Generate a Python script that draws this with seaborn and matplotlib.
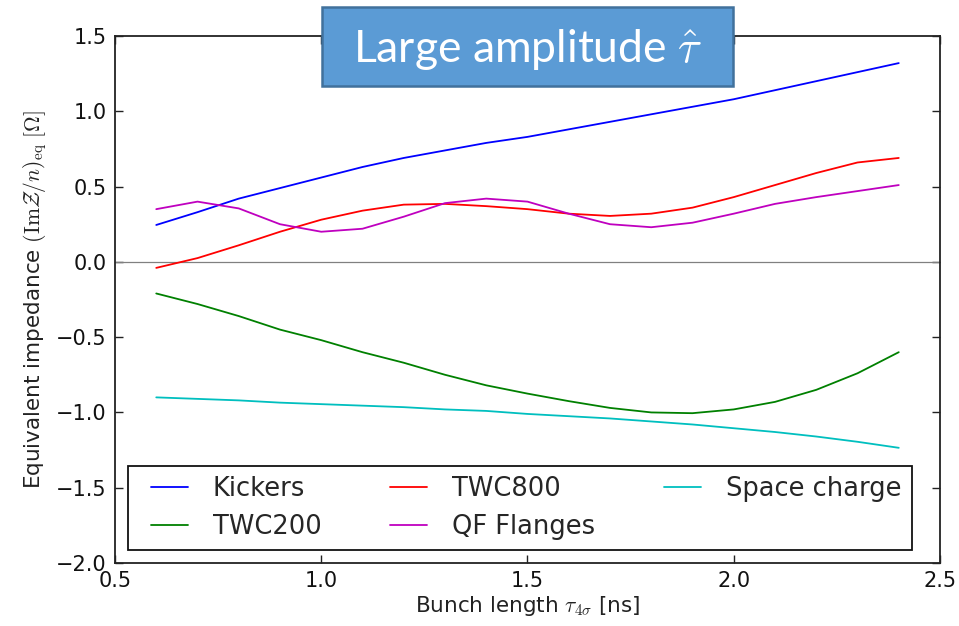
import numpy as np
import pandas as pd
import matplotlib
matplotlib.use("Agg")
import matplotlib.pyplot as plt
from matplotlib.patches import Rectangle
from matplotlib.legend_handler import HandlerLine2D
import seaborn as sns

# Bunch length [ns]
bunch_length = [0.6, 0.7, 0.8, 0.9, 1.0, 1.1, 1.2, 1.3, 1.4, 1.5,
                1.6, 1.7, 1.8, 1.9, 2.0, 2.1, 2.2, 2.3, 2.4]

# Equivalent impedance contributions [Ohm]
kickers = [0.245, 0.33, 0.42, 0.49, 0.56, 0.63, 0.69, 0.74, 0.79, 0.83,
           0.88, 0.93, 0.98, 1.03, 1.08, 1.14, 1.20, 1.26, 1.32]
twc200 = [-0.21, -0.28, -0.36, -0.45, -0.52, -0.60, -0.67, -0.75, -0.82, -0.875,
          -0.925, -0.97, -1.0, -1.005, -0.98, -0.93, -0.85, -0.74, -0.60]
twc800 = [-0.04, 0.025, 0.11, 0.20, 0.28, 0.34, 0.38, 0.385, 0.37, 0.35,
          0.32, 0.305, 0.32, 0.36, 0.43, 0.51, 0.59, 0.66, 0.69]
qf_flanges = [0.35, 0.40, 0.355, 0.25, 0.20, 0.22, 0.30, 0.39, 0.42, 0.40,
              0.32, 0.25, 0.23, 0.26, 0.32, 0.385, 0.43, 0.47, 0.51]
space_charge = [-0.90, -0.91, -0.92, -0.935, -0.945, -0.955, -0.965, -0.98, -0.99, -1.01,
                -1.025, -1.04, -1.06, -1.08, -1.105, -1.13, -1.16, -1.195, -1.235]

series_names = ["Kickers", "TWC200", "TWC800", "QF Flanges", "Space charge"]
series_values = [kickers, twc200, twc800, qf_flanges, space_charge]
series_colors = ["#0000ff", "#008000", "#ff0000", "#bf00bf", "#00bfbf"]

x_ticks = [0.5, 1.0, 1.5, 2.0, 2.5]
y_ticks = [-2.0, -1.5, -1.0, -0.5, 0.0, 0.5, 1.0, 1.5]

sns.set_style("ticks")
plt.rcParams["font.family"] = ["DejaVu Sans"]
plt.rcParams["mathtext.fontset"] = "cm"

df = pd.DataFrame({
    "tau": np.tile(bunch_length, len(series_names)),
    "Z": np.concatenate(series_values),
    "component": np.repeat(series_names, len(bunch_length)),
})

fig = plt.figure(figsize=(9.59, 6.26), dpi=100)
ax = fig.add_axes([115 / 959, 63 / 626, 825 / 959, 527 / 626])

ax.axhline(0.0, color="#808080", lw=0.9, zorder=1)

sns.lineplot(data=df, x="tau", y="Z", hue="component", hue_order=series_names,
             palette=dict(zip(series_names, series_colors)), lw=1.3,
             ax=ax, legend=False, zorder=3)

ax.set_xlim(0.5, 2.5)
ax.set_ylim(-2.0, 1.5)
ax.set_xticks(x_ticks)
ax.set_yticks(y_ticks)
ax.set_xticklabels([f"{v:.1f}" for v in x_ticks])
ax.set_yticklabels([f"{v:.1f}".replace("-", "\u2212") for v in y_ticks])
ax.tick_params(direction="in", length=6, width=1.0, labelsize=15,
               top=True, right=True, pad=6, colors="#222222", labelcolor="#111111")
for sp in ax.spines.values():
    sp.set_linewidth(1.3)
    sp.set_color("#222222")

ax.set_xlabel(r"Bunch length $\tau_{4\sigma}$ [ns]", fontsize=15.5, color="#222222", labelpad=2)
ax.set_ylabel(r"Equivalent impedance $(\mathrm{Im}\mathcal{Z}/n)_\mathrm{eq}\ [\Omega]$",
              fontsize=15.5, color="#222222", labelpad=5)


class InsetLine(HandlerLine2D):
    """Legend line drawn a few pixels in from the frame."""
    def create_artists(self, legend, orig_handle, xdescent, ydescent,
                       width, height, fontsize, trans):
        return super().create_artists(legend, orig_handle, xdescent - 9, ydescent,
                                      width, height, fontsize, trans)


handles = [plt.Line2D([], [], color=c, lw=1.3) for c in series_colors]
leg = ax.legend(handles, series_names, ncol=3, loc="lower left",
                bbox_to_anchor=(0.0158, 0.0247, 0.950, 0.159), mode="expand",
                borderaxespad=0, fontsize=18.5, frameon=True, fancybox=False,
                handlelength=1.45, handletextpad=1.45, borderpad=0.4,
                labelspacing=0.45, handler_map={plt.Line2D: InsetLine()})
leg.get_frame().set_edgecolor("#111111")
leg.get_frame().set_linewidth(1.3)
leg.get_frame().set_facecolor("white")
leg.get_frame().set_alpha(1.0)

# Title banner
fig.patches.append(Rectangle((322 / 959, (626 - 86) / 626), 411 / 959, 79 / 626,
                             transform=fig.transFigure, facecolor="#5b9bd5",
                             edgecolor="#41719c", lw=1.8, zorder=10))
fig.text(527.5 / 959, (626 - 49) / 626, r"Large amplitude $\hat{\tau}$",
         ha="center", va="center", color="white", fontsize=32,
         family=["Lato", "DejaVu Sans"], math_fontfamily="cm", zorder=11)

fig.savefig("out.png", dpi=100)
